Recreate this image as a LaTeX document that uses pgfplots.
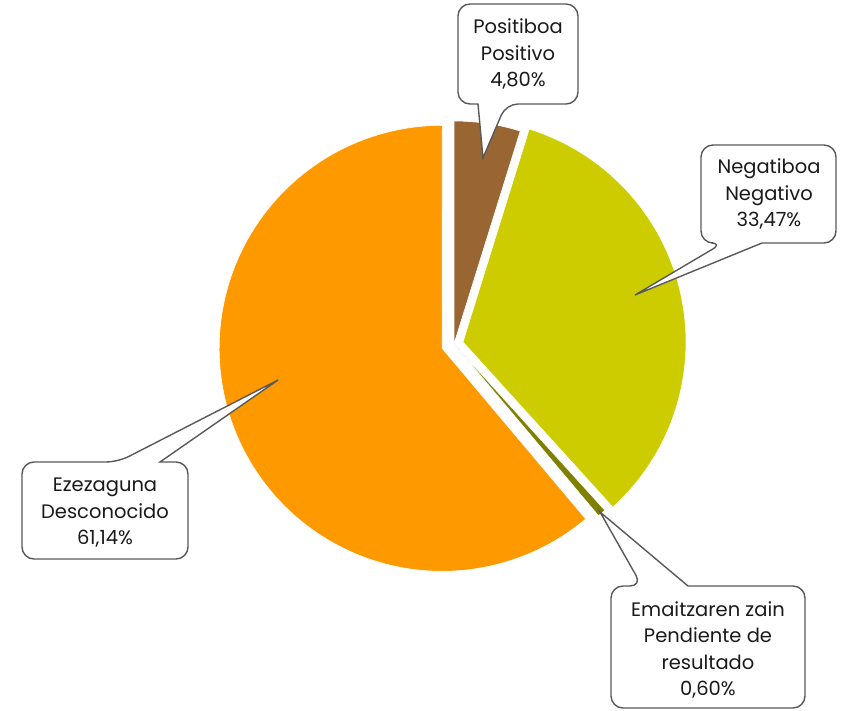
\documentclass[border=0pt]{standalone}
\usepackage{pgfplots}
\pgfplotsset{compat=1.18}
\usepackage{fontspec}
\setmainfont{Poppins}

\definecolor{cPos}{HTML}{996633}
\definecolor{cNeg}{HTML}{CCCC00}
\definecolor{cPen}{HTML}{808000}
\definecolor{cDes}{HTML}{FF9900}
\definecolor{cBox}{HTML}{595959}
\definecolor{cTxt}{HTML}{1A1A1A}

% data (percent)
\def\vPos{4.80}
\def\vNeg{33.47}
\def\vPen{0.60}
\def\vDes{61.14}

\def\cx{454}\def\cy{366}\def\R{223}
\pgfmathsetmacro\aA{0}
\pgfmathsetmacro\aB{\vPos*3.6}
\pgfmathsetmacro\aC{(\vPos+\vNeg)*3.6}
\pgfmathsetmacro\aD{(\vPos+\vNeg+\vPen)*3.6}
\pgfmathsetmacro\aE{(\vPos+\vNeg+\vPen+\vDes)*3.6}

\newcommand\slice[4]{%
 \pgfmathsetmacro\smid{(#2+#3)/2}%
 \pgfmathsetmacro\ox{\cx+#4*sin(\smid)}%
 \pgfmathsetmacro\oy{\cy+#4*cos(\smid)}%
 \edef\doslice{\noexpand\addplot[fill=#1, draw=white, line width=0.6pt, domain=#2:#3, samples=120, variable=\noexpand\t] ({\ox+\R*sin(\noexpand\t)},{\oy+\R*cos(\noexpand\t)}) -- (axis cs:\ox,\oy) -- cycle;}%
 \doslice
}

\tikzset{callout/.style={draw=cBox, line width=1.4pt, fill=white, line join=miter},
 lbl/.style={align=center, text=cTxt, font=\fontsize{19.5}{26.5}\selectfont, inner sep=0pt}}

\begin{document}
\begin{tikzpicture}
\begin{axis}[width=841pt, height=710pt, scale only axis, xmin=0, xmax=841, ymin=0, ymax=710, axis lines=none, clip=false]
\slice{cPos}{\aA}{\aB}{0}
\slice{cNeg}{\aB}{\aC}{9.2}
\slice{cPen}{\aC}{\aD}{1.5}
\slice{cDes}{\aD}{\aE}{12.6}

% Positivo
\draw[callout] (axis cs:478,606) [rounded corners=12pt] -- (axis cs:458,606) -- (axis cs:458,706) -- (axis cs:578,706) -- (axis cs:578,606) -- (axis cs:506,606) [sharp corners] -- (axis cs:483,552) -- cycle;
\node[lbl] at (axis cs:518,656) {Positiboa\\Positivo\\4,80\%};

% Negativo
\draw[callout] (axis cs:762,467) [rounded corners=12pt] -- (axis cs:836,467) -- (axis cs:836,565) -- (axis cs:701,565) -- (axis cs:701,467) -- (axis cs:723,467) [sharp corners] -- (axis cs:635,415) -- cycle;
\node[lbl] at (axis cs:769,516) {Negatiboa\\Negativo\\33,47\%};

% Pendiente
\draw[callout] (axis cs:688,124) [rounded corners=12pt] -- (axis cs:805,124) -- (axis cs:805,2) -- (axis cs:611,2) -- (axis cs:611,124) -- (axis cs:642,124) [sharp corners] -- (axis cs:600,198) -- cycle;
\node[lbl] at (axis cs:708,60) {Emaitzaren zain\\Pendiente de\\resultado\\0,60\%};

% Desconocido
\draw[callout] (axis cs:160,248) [rounded corners=12pt] -- (axis cs:188,248) -- (axis cs:188,151) -- (axis cs:22,151) -- (axis cs:22,248) -- (axis cs:118,248) [sharp corners] -- (axis cs:278,330) -- cycle;
\node[lbl] at (axis cs:105,197) {Ezezaguna\\Desconocido\\61,14\%};
\end{axis}
\path (current axis.south west) rectangle (current axis.north east);
\end{tikzpicture}
\end{document}
